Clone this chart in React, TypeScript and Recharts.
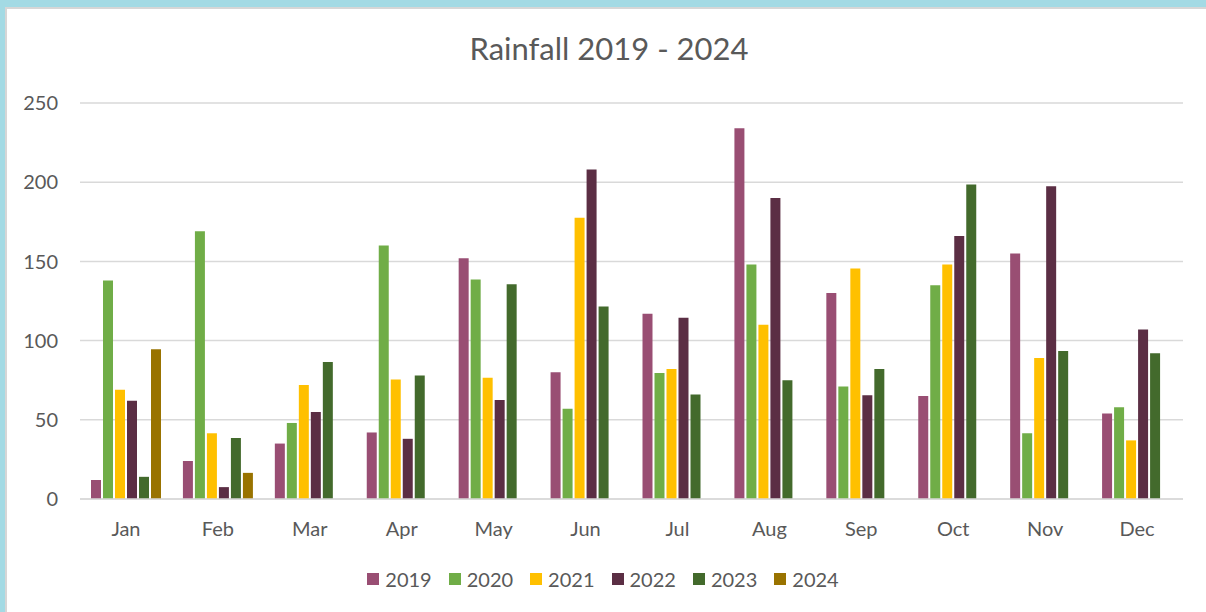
import React from "react";
import { BarChart, Bar, XAxis, YAxis, CartesianGrid, Legend } from "recharts";

const months = ["Jan", "Feb", "Mar", "Apr", "May", "Jun", "Jul", "Aug", "Sep", "Oct", "Nov", "Dec"];
const years = ["2019", "2020", "2021", "2022", "2023", "2024"];
const rain2019 = [12, 24, 35, 42, 152, 80, 117, 234, 130, 65, 155, 54];
const rain2020 = [138, 169, 48, 160, 138.5, 57, 79.5, 148, 71, 135, 41.5, 58];
const rain2021 = [69, 41.5, 72, 75.5, 76.5, 177.5, 82, 110, 145.5, 148, 89, 37];
const rain2022 = [62, 7.5, 55, 38, 62.5, 208, 114.5, 190, 65.5, 166, 197.5, 107];
const rain2023 = [14, 38.5, 86.5, 78, 135.5, 121.5, 66, 75, 82, 198.5, 93.5, 92];
const rain2024 = [94.5, 16.5, null, null, null, null, null, null, null, null, null, null];
const yTicks = [0, 50, 100, 150, 200, 250];
const colors = ["#994e73", "#70ad47", "#ffc000", "#5b2e44", "#436a2c", "#997300"];

const series = [rain2019, rain2020, rain2021, rain2022, rain2023, rain2024];
const data = months.map((m, i) => {
  const row: Record<string, string | number | null> = { month: m };
  years.forEach((y, k) => {
    row[y] = series[k][i];
  });
  return row;
});

const FONT = "Lato, 'Open Sans', sans-serif";
const TEXT = "#595959";

const renderLegend = () => (
  <div style={{ display: "flex", justifyContent: "center", alignItems: "center", fontFamily: FONT, fontSize: 20, color: TEXT }}>
    {years.map((y, k) => (
      <div key={y} style={{ display: "flex", alignItems: "center", marginRight: k === years.length - 1 ? 0 : 17 }}>
        <span style={{ display: "inline-block", width: 12, height: 12, background: colors[k], marginRight: 6 }} />
        <span>{y}</span>
      </div>
    ))}
  </div>
);

export default function App() {
  return (
    <div style={{ position: "absolute", left: 0, top: 0, width: 1206, height: 612, background: "#a3dae4", overflow: "hidden" }}>
      <div
        style={{
          position: "absolute",
          left: 5,
          top: 7,
          width: 1210,
          height: 620,
          background: "#ffffff",
          borderLeft: "2px solid #d6d6d6",
          borderTop: "2px solid #d6d6d6",
          boxSizing: "border-box",
        }}
      />
      <div
        style={{
          position: "absolute",
          left: 0,
          top: 30,
          width: 1218,
          textAlign: "center",
          fontFamily: FONT,
          fontSize: 31,
          lineHeight: "36px",
          color: TEXT,
        }}
      >
        Rainfall 2019 - 2024
      </div>
      <div style={{ position: "absolute", left: 0, top: 0 }}>
        <BarChart
          width={1206}
          height={612}
          data={data}
          margin={{ top: 103, right: 23, bottom: 83, left: 0 }}
          barSize={10}
          barGap={2}
        >
          <CartesianGrid vertical={false} stroke="#d9d9d9" strokeWidth={1.5} />
          <XAxis
            dataKey="month"
            axisLine={{ stroke: "#d9d9d9", strokeWidth: 1.5 }}
            tickLine={false}
            tickSize={0}
            tickMargin={23}
            height={30}
            tick={{ fill: TEXT, fontSize: 20, fontFamily: FONT }}
          />
          <YAxis
            domain={[0, 250]}
            ticks={yTicks}
            width={80}
            axisLine={false}
            tickLine={false}
            tickSize={0}
            tickMargin={22}
            tick={{ fill: TEXT, fontSize: 20, fontFamily: FONT }}
          />
          <Legend
            layout="horizontal"
            verticalAlign="middle"
            align="center"
            content={renderLegend}
            wrapperStyle={{ top: 567, left: 0, width: 1206 }}
          />
          {years.map((y, k) => (
            <Bar key={y} dataKey={y} fill={colors[k]} isAnimationActive={false} />
          ))}
        </BarChart>
      </div>
    </div>
  );
}
